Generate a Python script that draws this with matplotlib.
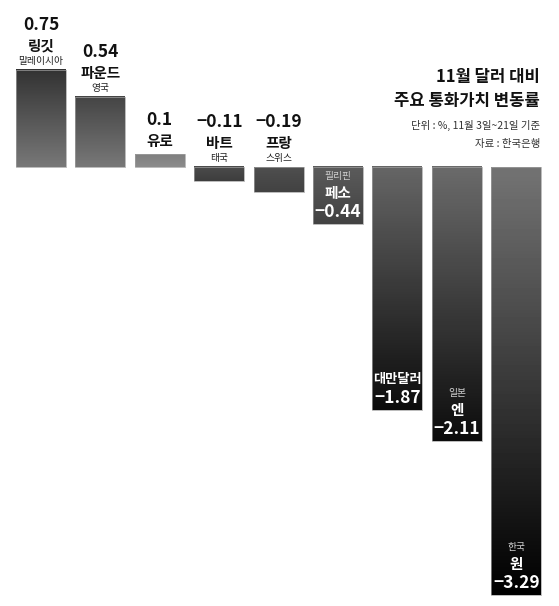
import numpy as np
import matplotlib.pyplot as plt

plt.rcParams['font.family'] = ['Noto Sans CJK KR', 'DejaVu Sans']

values = [0.75, 0.54, 0.1, -0.11, -0.19, -0.44, -1.87, -2.11, -3.29]
names = ['링깃', '파운드', '유로', '바트', '프랑', '페소', '대만달러', '엔', '원']
countries = ['말레이시아', '영국', '', '태국', '스위스', '필리핀', '', '일본', '한국']
value_labels = ['0.75', '0.54', '0.1', '−0.11', '−0.19', '−0.44', '−1.87', '−2.11', '−3.29']
# gradient grey levels (top, bottom) for each bar
grad_top = [0.20, 0.27, 0.50, 0.30, 0.31, 0.36, 0.40, 0.42, 0.45]
grad_bot = [0.47, 0.47, 0.55, 0.24, 0.26, 0.26, 0.05, 0.05, 0.0]

fig = plt.figure(figsize=(5.59, 6.06), dpi=100)
ax = fig.add_axes([0, 0, 1, 1])
ax.set_xlim(-0.69, 8.72)
ax.set_ylim(-3.377, 1.285)
ax.axis('off')

w = 0.84
px = 0.72  # points per pixel
for i, v in enumerate(values):
    lo, hi = min(0, v), max(0, v)
    grad = np.linspace(grad_top[i], grad_bot[i], 100).reshape(-1, 1)
    ax.imshow(grad, extent=(i - w / 2, i + w / 2, lo, hi), cmap='gray',
              vmin=0, vmax=1, aspect='auto', interpolation='bicubic', zorder=1)
    ax.bar(i, v, width=w, facecolor='none', edgecolor='#a0a0a0', linewidth=0.5, zorder=2)

    name_size = 9.5 if len(names[i]) > 3 else 10.5
    if v > -0.3:
        off = 9 if countries[i] else -2
        if countries[i]:
            ax.annotate(countries[i], (i, hi), xytext=(0, 9 * px), textcoords='offset points',
                        ha='center', va='center', fontsize=7, color='#222222')
        ax.annotate(names[i], (i, hi), xytext=(0, (off + 15) * px), textcoords='offset points',
                    ha='center', va='center', fontsize=name_size, fontweight='bold', color='#111111')
        ax.annotate(value_labels[i], (i, hi), xytext=(0, (off + 36) * px), textcoords='offset points',
                    ha='center', va='center', fontsize=12.5, fontweight='bold', color='#111111')
    else:
        ax.annotate(value_labels[i], (i, lo), xytext=(0, 12 * px), textcoords='offset points',
                    ha='center', va='center', fontsize=12.5, fontweight='bold', color='white')
        ax.annotate(names[i], (i, lo), xytext=(0, 31 * px), textcoords='offset points',
                    ha='center', va='center', fontsize=name_size, fontweight='bold', color='white')
        if countries[i]:
            ax.annotate(countries[i], (i, lo), xytext=(0, 48 * px), textcoords='offset points',
                        ha='center', va='center', fontsize=7, color='#d0d0d0')

W, H = 559, 606
fig.text(540 / W, 1 - 77 / H, '11월 달러 대비', ha='right', va='center',
         fontsize=12, fontweight='bold', color='#111111')
fig.text(540 / W, 1 - 101 / H, '주요 통화가치 변동률', ha='right', va='center',
         fontsize=12, fontweight='bold', color='#111111')
fig.text(540 / W, 1 - 125 / H, '단위 : %, 11월 3일~21일 기준', ha='right', va='center',
         fontsize=7.5, color='#333333')
fig.text(540 / W, 1 - 144 / H, '자료 : 한국은행', ha='right', va='center',
         fontsize=7.5, color='#333333')

fig.savefig('out.png', dpi=100, facecolor='white')
